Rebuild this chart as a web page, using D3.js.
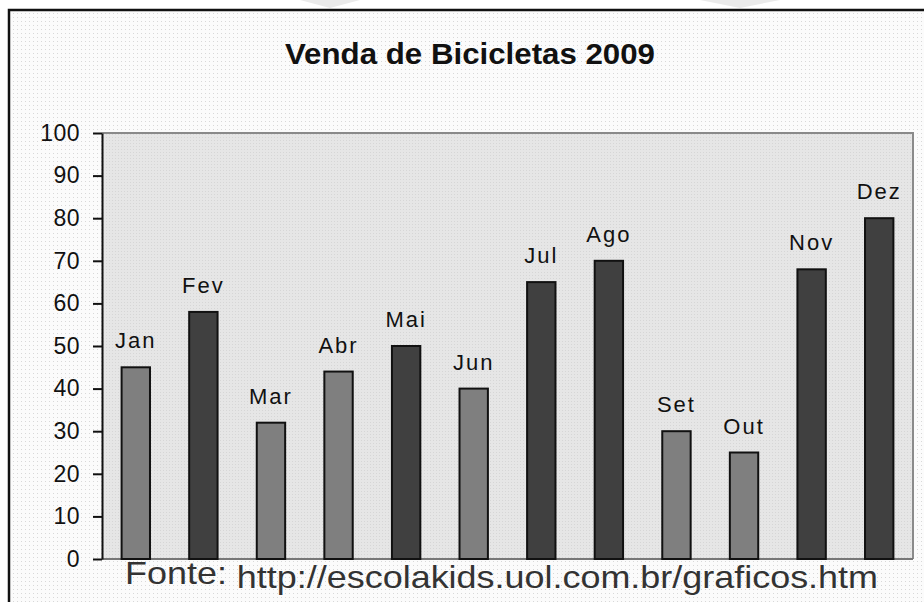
<!DOCTYPE html>
<html>
<head>
<meta charset="utf-8">
<script src="https://cdn.jsdelivr.net/npm/d3@7"></script>
<style>
  body { margin: 0; background: #fff; }
  svg { display: block; }
  .tick text { font-family: "Liberation Sans", Arial, sans-serif; font-size: 23px; fill: #111; letter-spacing: 0.5px; }
  .tick line { stroke: #111; stroke-width: 2; }
  .domain { stroke: #111; stroke-width: 2; }
</style>
</head>
<body>
<script>
var WIDTH = 924, HEIGHT = 602;
var MARGIN = {top: 133, right: 11, bottom: 43, left: 102};
var INNER_WIDTH = WIDTH - MARGIN.left - MARGIN.right;
var INNER_HEIGHT = HEIGHT - MARGIN.top - MARGIN.bottom;

var months = ['Jan','Fev','Mar','Abr','Mai','Jun','Jul','Ago','Set','Out','Nov','Dez'];
var sales = [45, 58, 32, 44, 50, 40, 65, 70, 30, 25, 68, 80];
var shades = ['light','dark','light','light','dark','light','dark','dark','light','light','dark','dark'];
var yTicks = [0,10,20,30,40,50,60,70,80,90,100];
var title = 'Venda de Bicicletas 2009';
var source = 'http://escolakids.uol.com.br/graficos.htm';

var data = months.map(function(m,i){ return {month:m, value:sales[i], shade:shades[i]}; });

var _svg = d3.select('body').append('svg')
    .attr('width',WIDTH)
    .attr('height',HEIGHT);

var defs = _svg.append('defs');
var dots = defs.append('pattern').attr('id','dots')
    .attr('width',4).attr('height',4).attr('patternUnits','userSpaceOnUse');
dots.append('rect').attr('width',4).attr('height',4).attr('fill','#fbfbfb');
dots.append('rect').attr('x',1).attr('y',1).attr('width',1).attr('height',1).attr('fill','#d8d8d8');
var grey = defs.append('pattern').attr('id','grey')
    .attr('width',3).attr('height',3).attr('patternUnits','userSpaceOnUse');
grey.append('rect').attr('width',3).attr('height',3).attr('fill','#e6e6e6');
grey.append('rect').attr('x',1).attr('y',1).attr('width',1).attr('height',1).attr('fill','#d6d6d6');

// page background and frame
_svg.append('rect').attr('x',9).attr('y',10).attr('width',WIDTH).attr('height',HEIGHT)
    .attr('fill','url(#dots)');
_svg.append('path').attr('d','M9,602 V10 H924')
    .attr('fill','none').attr('stroke','#111').attr('stroke-width',2.5);

// faint watermark shapes at top
_svg.append('path').attr('d','M300,0 L330,8 L360,0 Z M700,0 L740,8 L780,0 Z')
    .attr('fill','#eaeaea');

var _xScale = d3.scaleBand()
    .domain(months)
    .range([0,INNER_WIDTH])
    .paddingInner(0.58)
    .paddingOuter(0.29);

var _yScale = d3.scaleLinear()
    .domain([0,100])
    .range([INNER_HEIGHT,0]);

var g = _svg.append('g')
    .attr('transform','translate('+MARGIN.left+','+MARGIN.top+')');

g.append('rect').attr('width',INNER_WIDTH).attr('height',INNER_HEIGHT)
    .attr('fill','url(#grey)');
g.append('path').attr('d','M0,0 H'+INNER_WIDTH+' V'+INNER_HEIGHT)
    .attr('fill','none').attr('stroke','#8a8a8a').attr('stroke-width',2);
g.append('line').attr('x1',0).attr('x2',INNER_WIDTH)
    .attr('y1',INNER_HEIGHT).attr('y2',INNER_HEIGHT)
    .attr('stroke','#777').attr('stroke-width',2);

g.append('g')
    .call(d3.axisLeft(_yScale).tickValues(yTicks).tickSize(9).tickPadding(13).tickSizeOuter(0));

g.selectAll('rect.bar').data(data)
    .enter()
    .append('rect')
        .classed('bar',true)
        .attr('x', function(d){ return _xScale(d.month); })
        .attr('y', function(d){ return _yScale(d.value); })
        .attr('width', _xScale.bandwidth())
        .attr('height', function(d){ return INNER_HEIGHT - _yScale(d.value); })
        .attr('fill', function(d){ return d.shade === 'dark' ? '#404040' : '#7f7f7f'; })
        .attr('stroke','#111')
        .attr('stroke-width',2);

g.selectAll('text.lbl').data(data)
    .enter()
    .append('text')
        .classed('lbl',true)
        .attr('x', function(d){ return _xScale(d.month) + _xScale.bandwidth()/2; })
        .attr('y', function(d){ return _yScale(d.value) - 19; })
        .attr('text-anchor','middle')
        .style('font-family','"Liberation Sans", Arial, sans-serif')
        .style('font-size','22px')
        .style('letter-spacing','2px')
        .attr('fill','#111')
        .text(function(d){ return d.month; });

_svg.append('text')
    .attr('x',285).attr('y',64)
    .attr('textLength',370)
    .attr('lengthAdjust','spacingAndGlyphs')
    .style('font-family','"Liberation Sans", Arial, sans-serif')
    .style('font-size','29px')
    .style('font-weight','bold')
    .attr('fill','#111')
    .text(title);

var src = _svg.append('text')
    .attr('x',125).attr('y',588)
    .attr('textLength',753)
    .attr('lengthAdjust','spacingAndGlyphs')
    .style('font-family','"Liberation Sans", Arial, sans-serif')
    .style('font-size','32px')
    .attr('fill','#333');
src.append('tspan').attr('dy',-4).text('Fonte: ');
src.append('tspan').attr('dy',4).text(source);
</script>
</body>
</html>
